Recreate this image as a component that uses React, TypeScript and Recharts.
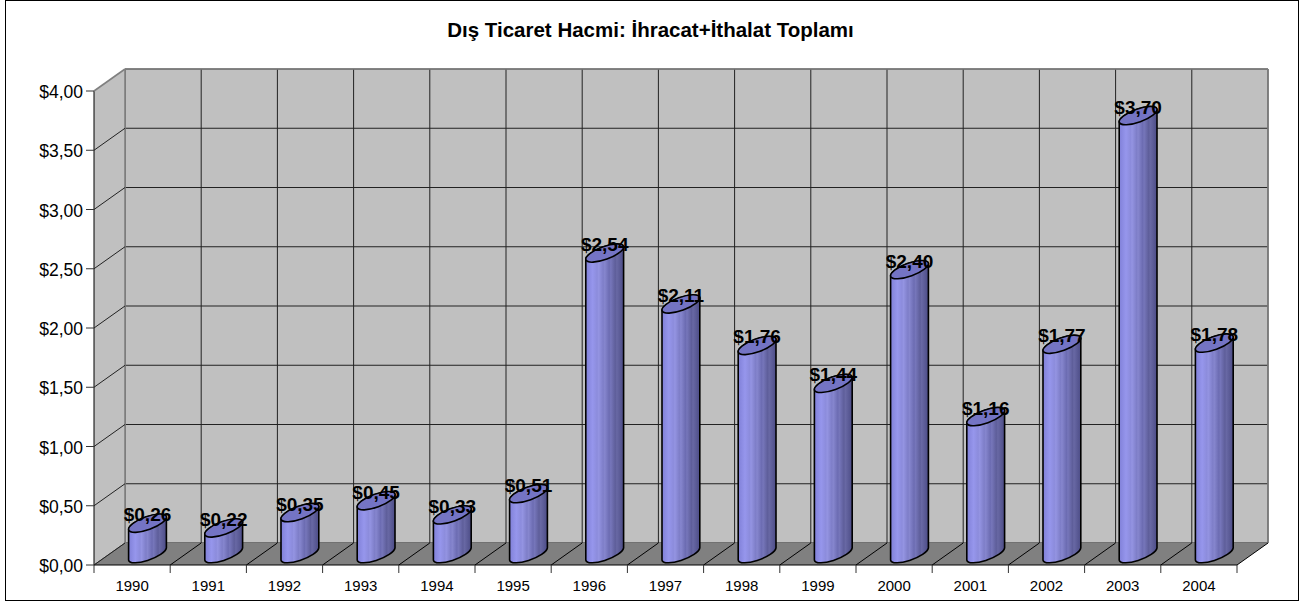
import { BarChart, Bar, XAxis, YAxis, CartesianGrid, LabelList, Customized } from 'recharts'

const years = ['1990', '1991', '1992', '1993', '1994', '1995', '1996', '1997', '1998', '1999', '2000', '2001', '2002', '2003', '2004']
const volumes = [0.26, 0.22, 0.35, 0.45, 0.33, 0.51, 2.54, 2.11, 1.76, 1.44, 2.4, 1.16, 1.77, 3.7, 1.78]
const yTicks = [0, 0.5, 1, 1.5, 2, 2.5, 3, 3.5, 4]

const data = years.map((year, i) => ({ year, volume: volumes[i] }))

// front plane of the fake 3d box, walls sit DX/DY behind it
const LEFT = 94
const RIGHT = 1237
const TOP = 91
const BOTTOM = 565
const DX = 31
const DY = -22
const BAND = (RIGHT - LEFT) / years.length

const FONT = '"Liberation Sans", Arial, sans-serif'
const money = (v: number) => '$' + v.toFixed(2).replace('.', ',')

// tilted ellipse of the cylinder caps
const RX = 20
const RY = 6.5
const TILT = -20
const EX = 18.9
const EY = 6.1

// back wall grid
const wallH = yTicks.map((t) => BOTTOM + DY - (t / 4) * (BOTTOM - TOP))
const wallV = [...years.map((_, i) => LEFT + DX + BAND * i), RIGHT + DX]

function Cylinder({ x, y, width, height }: any) {
  const cx = x + width / 2 + DX / 2
  const top = y + DY / 2
  const bottom = y + height + DY / 2
  const body =
    `M${cx - EX},${top + EY} L${cx - EX},${bottom + EY} ` +
    `A${RX},${RY} ${TILT} 0 0 ${cx + EX},${bottom - EY} ` +
    `L${cx + EX},${top - EY} ` +
    `A${RX},${RY} ${TILT} 0 0 ${cx - EX},${top + EY} Z`
  return (
    <g>
      <path d={body} fill="url(#cyl)" stroke="#000" strokeWidth={1.6} />
      <ellipse
        cx={cx}
        cy={top}
        rx={RX}
        ry={RY}
        transform={`rotate(${TILT} ${cx} ${top})`}
        fill="#7474c4"
        stroke="#000"
        strokeWidth={1.6}
      />
    </g>
  )
}

function YTick({ y, payload }: any) {
  const top = payload.value === 4
  return (
    <g>
      <line x1={LEFT} y1={y} x2={LEFT + DX} y2={y + DY} stroke={top ? '#808080' : '#222'} strokeWidth={top ? 1.6 : 1} />
      <line x1={LEFT - 8} y1={y} x2={LEFT} y2={y} stroke="#333" />
      <text x={LEFT - 11} y={y + 7} textAnchor="end" fontSize={17.5} fontFamily={FONT} fill="#000">
        {money(payload.value)}
      </text>
    </g>
  )
}

function XTick({ x, payload, index }: any) {
  const left = x - BAND / 2
  const right = x + BAND / 2
  return (
    <g>
      <line x1={left} y1={BOTTOM} x2={left} y2={BOTTOM + 8} stroke="#333" />
      {index === years.length - 1 && <line x1={right} y1={BOTTOM} x2={right} y2={BOTTOM + 8} stroke="#333" />}
      <text x={x} y={BOTTOM + 26} textAnchor="middle" fontSize={15} fontFamily={FONT} fill="#000">
        {payload.value}
      </text>
    </g>
  )
}

function Box() {
  return (
    <g>
      <polygon
        points={`${LEFT},${TOP} ${LEFT + DX},${TOP + DY} ${LEFT + DX},${BOTTOM + DY} ${LEFT},${BOTTOM}`}
        fill="#c0c0c0"
      />
      <polygon
        points={`${LEFT},${BOTTOM} ${LEFT + DX},${BOTTOM + DY} ${RIGHT + DX},${BOTTOM + DY} ${RIGHT},${BOTTOM}`}
        fill="#808080"
      />
    </g>
  )
}

function FloorLines() {
  return (
    <g>
      <line x1={LEFT + DX} y1={TOP + DY} x2={LEFT + DX} y2={BOTTOM + DY} stroke="#808080" strokeWidth={1.6} />
      <line x1={LEFT + DX} y1={TOP + DY} x2={RIGHT + DX} y2={TOP + DY} stroke="#808080" strokeWidth={1.6} />
      <line x1={RIGHT + DX} y1={TOP + DY} x2={RIGHT + DX} y2={BOTTOM + DY} stroke="#808080" strokeWidth={1.6} />
      {years.map((year, i) => (
        <line
          key={year}
          x1={LEFT + BAND * (i + 1)}
          y1={BOTTOM}
          x2={LEFT + BAND * (i + 1) + DX}
          y2={BOTTOM + DY}
          stroke="#000"
        />
      ))}
      <line x1={LEFT} y1={BOTTOM} x2={LEFT + DX} y2={BOTTOM + DY} stroke="#555" />
      <line x1={LEFT} y1={TOP} x2={LEFT} y2={BOTTOM} stroke="#000" />
      <line x1={LEFT} y1={BOTTOM} x2={RIGHT} y2={BOTTOM} stroke="#000" />
    </g>
  )
}

export default function App() {
  return (
    <div style={{ position: 'absolute', left: 0, top: 0, width: 1306, height: 603, background: '#fff' }}>
      <div
        style={{
          position: 'absolute',
          left: 5,
          top: 0,
          width: 1292,
          height: 599,
          border: '1.5px solid #000',
          boxSizing: 'content-box',
        }}
      />
      <BarChart width={1306} height={603} data={data} margin={{ left: 0, right: 69, top: TOP, bottom: 0 }}>
        <defs>
          <linearGradient id="cyl" x1="0" y1="0" x2="1" y2="0">
            <stop offset="0" stopColor="#8080d8" />
            <stop offset="0.18" stopColor="#9696ec" />
            <stop offset="0.3" stopColor="#8c8cdc" />
            <stop offset="0.34" stopColor="#9494e2" />
            <stop offset="0.46" stopColor="#7e7ec8" />
            <stop offset="0.5" stopColor="#8686ce" />
            <stop offset="0.62" stopColor="#6c6cb2" />
            <stop offset="0.66" stopColor="#7676ba" />
            <stop offset="0.78" stopColor="#5e5e9a" />
            <stop offset="0.82" stopColor="#6868a4" />
            <stop offset="1" stopColor="#4c4c86" />
          </linearGradient>
        </defs>
        <Customized component={Box} />
        <CartesianGrid
          x={LEFT + DX}
          y={TOP + DY}
          width={RIGHT - LEFT}
          height={BOTTOM - TOP}
          horizontalPoints={wallH}
          verticalPoints={wallV}
          fill="#c0c0c0"
          fillOpacity={1}
          stroke="#222"
        />
        <Customized component={FloorLines} />
        <XAxis dataKey="year" height={38} axisLine={false} tickLine={false} tick={<XTick />} interval={0} />
        <YAxis
          width={LEFT}
          domain={[0, 4]}
          ticks={yTicks}
          axisLine={false}
          tickLine={false}
          tick={<YTick />}
          interval={0}
        />
        <Bar dataKey="volume" barSize={38} shape={<Cylinder />} isAnimationActive={false}>
          <LabelList
            dataKey="volume"
            content={({ x, y, width, value }: any) => (
              <text
                x={x + width / 2 + DX / 2}
                y={y - 13}
                textAnchor="middle"
                fontSize={19}
                fontWeight="bold"
                fontFamily={FONT}
                fill="#000"
              >
                {money(value)}
              </text>
            )}
          />
        </Bar>
        <text x={650.5} y={37} textAnchor="middle" fontSize={20.5} fontWeight="bold" fontFamily={FONT} fill="#000">
          Dış Ticaret Hacmi: İhracat+İthalat Toplamı
        </text>
      </BarChart>
    </div>
  )
}
